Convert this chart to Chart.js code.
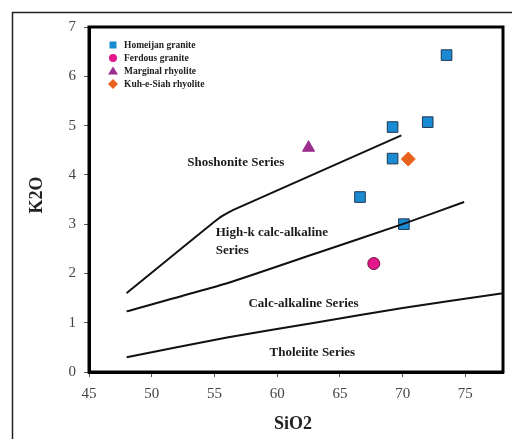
<!DOCTYPE html>
<html lang="en">
<head>
    <meta charset="UTF-8">
    <title>K2O vs SiO2</title>
    <script src="https://cdn.jsdelivr.net/npm/chart.js"></script>
    <style>
        body { margin: 0; background: #fff; }
        #chart { display: block; }
    </style>
</head>
<body>
    <canvas id="chart" width="512" height="439"></canvas>
    <script>
        // samples (SiO2, K2O)
        const homeijanSi = [73.5, 69.2, 72.0, 69.2, 66.6, 70.1];
        const homeijanK  = [6.43, 4.97, 5.07, 4.33, 3.55, 3.0];
        const ferdousSi = [67.7];
        const ferdousK  = [2.2];
        const marginalSi = [62.5];
        const marginalK  = [4.55];
        const kuhSi = [70.45];
        const kuhK  = [4.32];

        // field boundaries
        const shoshSi = [48, 55.4, 56.6, 69.9];
        const shoshK  = [1.6, 3.13, 3.3, 4.8];
        const highKSi = [48, 56, 63, 70, 74.9];
        const highKK  = [1.23, 1.8, 2.4, 3.0, 3.45];
        const calcSi = [48, 56, 63, 70, 78];
        const calcK  = [0.3, 0.7, 1.0, 1.3, 1.6];

        const xTicks = [45, 50, 55, 60, 65, 70, 75];
        const yTicks = [0, 1, 2, 3, 4, 5, 6, 7];

        const fieldLabels = [
            { text: 'Shoshonite Series', x: 56.7, y: 4.24, align: 'center' },
            { text: 'High-k calc-alkaline', x: 55.1, y: 2.82, align: 'left' },
            { text: 'Series', x: 55.1, y: 2.47, align: 'left' },
            { text: 'Calc-alkaline Series', x: 62.1, y: 1.38, align: 'center' },
            { text: 'Tholeiite Series', x: 62.8, y: 0.40, align: 'center' }
        ];

        const toPts = (xs, ys) => xs.map((x, i) => ({ x: x, y: ys[i] }));
        const serif = '"Liberation Serif", "DejaVu Serif", serif';

        const markers = [
            { label: 'Homeijan granite', xs: homeijanSi, ys: homeijanK, style: 'rect', r: 7.5, fill: '#1a8bd3', line: '#1f3550' },
            { label: 'Ferdous granite', xs: ferdousSi, ys: ferdousK, style: 'circle', r: 6, fill: '#e3178a', line: '#6a1040' },
            { label: 'Marginal rhyolite', xs: marginalSi, ys: marginalK, style: 'triangle', r: 7, fill: '#9a2e8e', line: '#9a2e8e' },
            { label: 'Kuh-e-Siah rhyolite', xs: kuhSi, ys: kuhK, style: 'rectRot', r: 7, fill: '#e9621d', line: '#e9621d' }
        ];

        const datasets = [];
        [[shoshSi, shoshK], [highKSi, highKK], [calcSi, calcK]].forEach(function (b) {
            datasets.push({
                type: 'line',
                data: toPts(b[0], b[1]),
                borderColor: '#111',
                borderWidth: 2,
                pointRadius: 0,
                tension: 0.15,
                fill: false
            });
        });
        markers.forEach(function (m) {
            datasets.push({
                type: 'scatter',
                label: m.label,
                data: toPts(m.xs, m.ys),
                pointStyle: m.style,
                pointRadius: m.r,
                pointHoverRadius: m.r,
                backgroundColor: m.fill,
                borderColor: m.line,
                borderWidth: 1
            });
        });

        const decor = {
            id: 'decor',
            beforeDraw(chart) {
                const ctx = chart.ctx;
                ctx.save();
                ctx.strokeStyle = '#222';
                ctx.lineWidth = 1.5;
                ctx.strokeRect(12.5, 12.5, 700, 700);
                ctx.restore();
            },
            afterDatasetsDraw(chart) {
                const ctx = chart.ctx;
                const a = chart.chartArea;
                const xs = chart.scales.x, ys = chart.scales.y;
                ctx.save();
                // plot frame
                ctx.strokeStyle = '#000';
                ctx.lineWidth = 3;
                ctx.strokeRect(a.left, a.top, a.right - a.left, a.bottom - a.top);

                // field names
                ctx.fillStyle = '#1a1a1a';
                ctx.font = 'bold 13px ' + serif;
                ctx.textBaseline = 'middle';
                fieldLabels.forEach(function (l) {
                    ctx.textAlign = l.align;
                    ctx.fillText(l.text, xs.getPixelForValue(l.x), ys.getPixelForValue(l.y));
                });

                // legend
                ctx.font = 'bold 9.5px ' + serif;
                ctx.textAlign = 'left';
                markers.forEach(function (m, i) {
                    const px = a.left + 24, py = a.top + 18 + i * 13;
                    ctx.fillStyle = m.fill;
                    ctx.beginPath();
                    if (m.style === 'rect') ctx.rect(px - 3.5, py - 3.5, 7, 7);
                    else if (m.style === 'circle') ctx.arc(px, py, 4, 0, Math.PI * 2);
                    else if (m.style === 'triangle') { ctx.moveTo(px, py - 4.5); ctx.lineTo(px + 5, py + 3.5); ctx.lineTo(px - 5, py + 3.5); ctx.closePath(); }
                    else { ctx.moveTo(px, py - 5); ctx.lineTo(px + 5, py); ctx.lineTo(px, py + 5); ctx.lineTo(px - 5, py); ctx.closePath(); }
                    ctx.fill();
                    ctx.fillStyle = '#222';
                    ctx.fillText(m.label, px + 11, py + 0.5);
                });

                // axis titles
                ctx.fillStyle = '#222';
                ctx.font = 'bold 18px ' + serif;
                ctx.textAlign = 'center';
                ctx.fillText('SiO2', (a.left + a.right) / 2 - 3, 424);
                ctx.translate(37, 195);
                ctx.rotate(-Math.PI / 2);
                ctx.fillText('K2O', 0, 0);
                ctx.restore();
            }
        };

        new Chart(document.getElementById('chart'), {
            type: 'scatter',
            data: { datasets: datasets },
            options: {
                responsive: false,
                animation: false,
                layout: { padding: { top: 27, right: 9, left: 0, bottom: 0 } },
                plugins: {
                    legend: { display: false },
                    tooltip: { enabled: false }
                },
                scales: {
                    x: {
                        type: 'linear',
                        min: 45,
                        max: 78,
                        afterFit(scale) { scale.height = 67; },
                        afterBuildTicks(scale) { scale.ticks = xTicks.map(v => ({ value: v })); },
                        ticks: { color: '#444', padding: 8, font: { family: serif, size: 15 } },
                        grid: { drawOnChartArea: false, drawTicks: true, tickLength: 5, color: '#555' },
                        border: { display: true, color: '#000', width: 3 }
                    },
                    y: {
                        min: 0,
                        max: 7,
                        afterFit(scale) { scale.width = 89; },
                        afterBuildTicks(scale) { scale.ticks = yTicks.map(v => ({ value: v })); },
                        ticks: { color: '#444', padding: 8, font: { family: serif, size: 15 } },
                        grid: { drawOnChartArea: false, drawTicks: true, tickLength: 5, color: '#555' },
                        border: { display: true, color: '#000', width: 3 }
                    }
                }
            },
            plugins: [decor]
        });
    </script>
</body>
</html>
